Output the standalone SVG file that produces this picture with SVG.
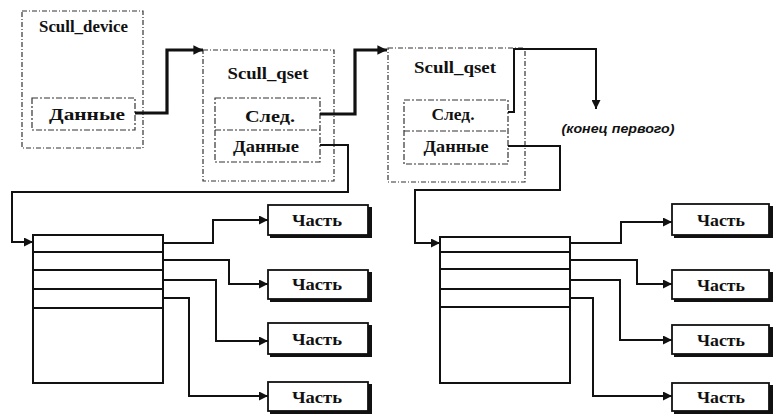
<svg xmlns="http://www.w3.org/2000/svg" width="774" height="414" viewBox="0 0 774 414">
<defs>
<style>
.dash{fill:#fff;stroke:#333;stroke-width:1.2;stroke-dasharray:5 2 1 2}
.inner{fill:none;stroke:#333;stroke-width:1.2;stroke-dasharray:6 2 2 2}
.tbl{fill:#fff;stroke:#111;stroke-width:2}
.row{stroke:#111;stroke-width:2.2}
.thick{fill:none;stroke:#111;stroke-width:3.2}
.thin{fill:none;stroke:#111;stroke-width:2}
.part{fill:#fff;stroke:#111;stroke-width:1.8}
.shadow{fill:#111}
</style>
<marker id="ah" viewBox="0 0 10 10" refX="10" refY="5" markerWidth="3.2" markerHeight="3" orient="auto" markerUnits="strokeWidth">
<path d="M0,0 L10,5 L0,10 z" fill="#111"/>
</marker>
<marker id="ahs" viewBox="0 0 10 10" refX="10" refY="5" markerWidth="5" markerHeight="4.5" orient="auto" markerUnits="strokeWidth">
<path d="M0,0 L10,5 L0,10 z" fill="#111"/>
</marker>
</defs>
<rect width="774" height="414" fill="#fff"/>
<g font-family="Liberation Serif, Times New Roman, DejaVu Serif, serif" font-weight="bold" fill="#111" text-anchor="middle" font-size="16">

<g id="scull_device">
<rect class="dash" x="22" y="11" width="121" height="137"/>
<text x="83.5" y="32" textLength="89" lengthAdjust="spacingAndGlyphs">Scull_device</text>
<rect class="inner" x="32" y="98" width="103" height="32"/>
<text x="87" y="120" textLength="76" lengthAdjust="spacingAndGlyphs">Данные</text>
</g>

<g id="scull_qset1">
<rect class="dash" x="203" y="50" width="131" height="131"/>
<text x="268" y="79" textLength="81" lengthAdjust="spacingAndGlyphs">Scull_qset</text>
<rect class="inner" x="215" y="98" width="105" height="64"/>
<line class="inner" x1="215" y1="130" x2="320" y2="130"/>
<text x="270" y="122" textLength="50" lengthAdjust="spacingAndGlyphs">След.</text>
<text x="266" y="152" textLength="66" lengthAdjust="spacingAndGlyphs">Данные</text>
</g>

<g id="scull_qset2">
<rect class="dash" x="388" y="48" width="137" height="134"/>
<text x="455" y="73" textLength="82" lengthAdjust="spacingAndGlyphs">Scull_qset</text>
<rect class="inner" x="404" y="100" width="104" height="64"/>
<line class="inner" x1="404" y1="131" x2="508" y2="131"/>
<text x="453" y="120" textLength="43" lengthAdjust="spacingAndGlyphs">След.</text>
<text x="456" y="152" textLength="65" lengthAdjust="spacingAndGlyphs">Данные</text>
</g>

<g id="end_label">
<text x="618" y="133" font-family="Liberation Sans, Arial, sans-serif" font-size="13" font-style="italic" textLength="113" lengthAdjust="spacingAndGlyphs">(конец первого)</text>
</g>

<g id="table1">
<rect class="tbl" x="33" y="235" width="130" height="148"/>
<line class="row" x1="33" y1="252" x2="163" y2="252"/>
<line class="row" x1="33" y1="270" x2="163" y2="270"/>
<line class="row" x1="33" y1="289" x2="163" y2="289"/>
<line class="row" x1="33" y1="308" x2="163" y2="308"/>
</g>

<g id="table2">
<rect class="tbl" x="440" y="237" width="130" height="146"/>
<line class="row" x1="440" y1="252" x2="570" y2="252"/>
<line class="row" x1="440" y1="269" x2="570" y2="269"/>
<line class="row" x1="440" y1="289" x2="570" y2="289"/>
<line class="row" x1="440" y1="307" x2="570" y2="307"/>
</g>

<g id="parts1">
<g id="p1a"><rect class="shadow" x="270" y="207" width="102" height="31"/><rect class="part" x="268" y="205" width="100" height="30"/><text x="317" y="226" textLength="50" lengthAdjust="spacingAndGlyphs">Часть</text></g>
<g id="p1b"><rect class="shadow" x="270" y="272" width="102" height="30"/><rect class="part" x="268" y="270" width="100" height="29"/><text x="317" y="290" textLength="50" lengthAdjust="spacingAndGlyphs">Часть</text></g>
<g id="p1c"><rect class="shadow" x="270" y="325" width="102" height="32"/><rect class="part" x="268" y="323" width="100" height="31"/><text x="317" y="345" textLength="50" lengthAdjust="spacingAndGlyphs">Часть</text></g>
<g id="p1d"><rect class="shadow" x="270" y="384" width="102" height="30"/><rect class="part" x="268" y="382" width="100" height="29"/><text x="317" y="403" textLength="50" lengthAdjust="spacingAndGlyphs">Часть</text></g>
</g>

<g id="parts2">
<g id="p2a"><rect class="shadow" x="674" y="206" width="99" height="32"/><rect class="part" x="672" y="204" width="97" height="31"/><text x="721" y="226" textLength="48" lengthAdjust="spacingAndGlyphs">Часть</text></g>
<g id="p2b"><rect class="shadow" x="674" y="272" width="99" height="30"/><rect class="part" x="672" y="270" width="97" height="29"/><text x="721" y="291" textLength="48" lengthAdjust="spacingAndGlyphs">Часть</text></g>
<g id="p2c"><rect class="shadow" x="674" y="327" width="99" height="30"/><rect class="part" x="672" y="325" width="97" height="29"/><text x="721" y="346" textLength="48" lengthAdjust="spacingAndGlyphs">Часть</text></g>
<g id="p2d"><rect class="shadow" x="674" y="385" width="99" height="29"/><rect class="part" x="672" y="383" width="97" height="28"/><text x="721" y="403" textLength="48" lengthAdjust="spacingAndGlyphs">Часть</text></g>
</g>
</g>

<g id="connectors">
<polyline class="thick" points="135,113 167,113 167,50 203,50" marker-end="url(#ah)"/>
<polyline class="thick" points="320,114 355,114 355,50 387,50" marker-end="url(#ah)"/>
<polyline class="thin" points="508,112 514,112 514,49 596,49 596,109" marker-end="url(#ahs)"/>
<polyline class="thin" points="320,145 348,145 348,192 12,192 12,242 33,242" marker-end="url(#ahs)"/>
<polyline class="thin" points="508,146 560,146 560,190 415,190 415,243 440,243" marker-end="url(#ahs)"/>

<polyline class="thin" points="163,243 213,243 213,220 268,220" marker-end="url(#ahs)"/>
<polyline class="thin" points="163,260 229,260 229,284 268,284" marker-end="url(#ahs)"/>
<polyline class="thin" points="163,280 216,280 216,341 268,341" marker-end="url(#ahs)"/>
<polyline class="thin" points="163,298 189,298 189,396 268,396" marker-end="url(#ahs)"/>

<polyline class="thin" points="570,243 621,243 621,222 672,222" marker-end="url(#ahs)"/>
<polyline class="thin" points="570,260 637,260 637,284 672,284" marker-end="url(#ahs)"/>
<polyline class="thin" points="570,280 620,280 620,340 672,340" marker-end="url(#ahs)"/>
<polyline class="thin" points="570,298 593,298 593,396 672,396" marker-end="url(#ahs)"/>
</g>
</svg>
